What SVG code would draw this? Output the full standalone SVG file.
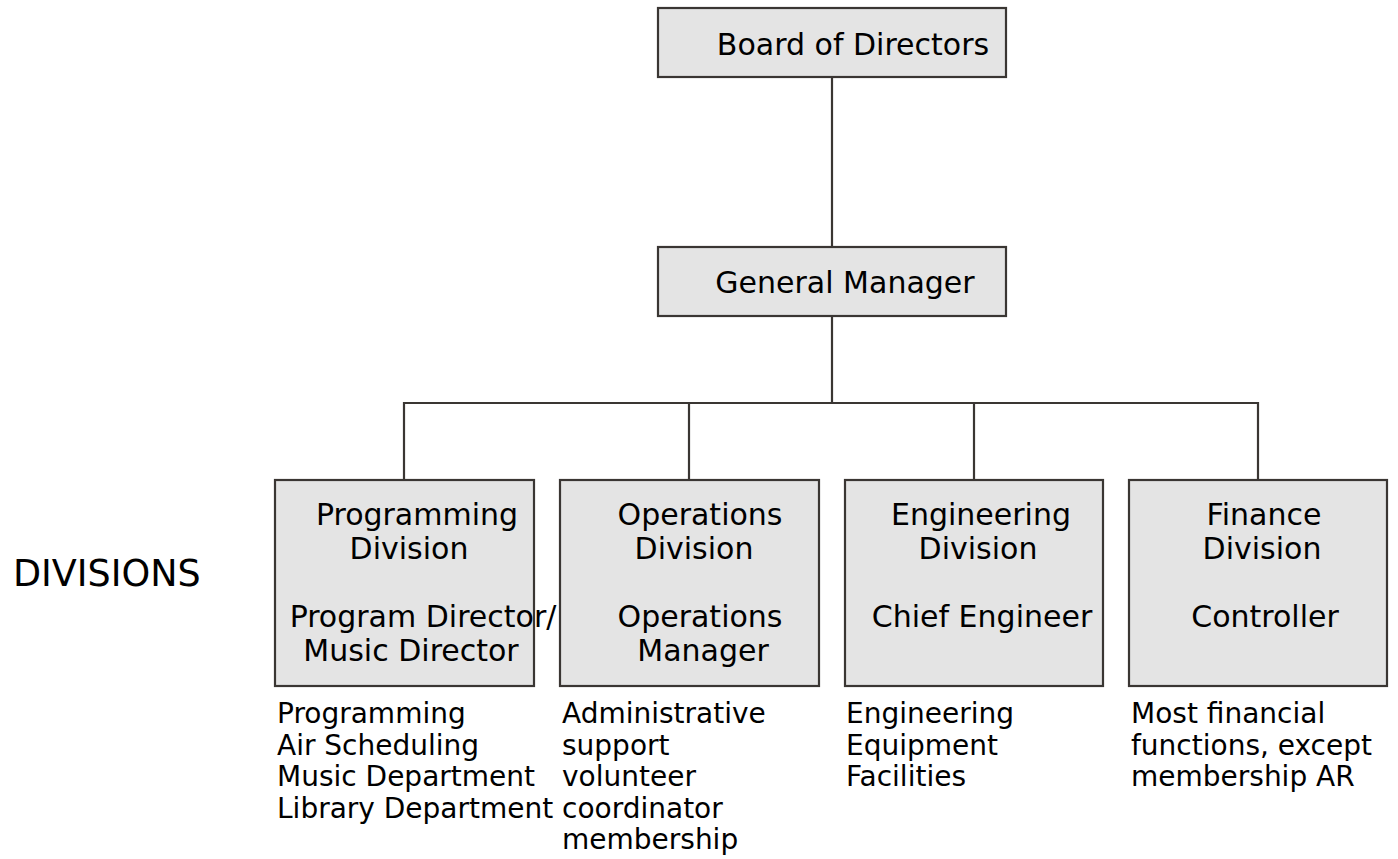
<svg xmlns="http://www.w3.org/2000/svg" width="1398" height="859" viewBox="0 0 1398 859">
  <style>
    .box { fill: #e4e4e4; stroke: #3a3633; stroke-width: 2.2; }
    .wire { fill: none; stroke: #3a3633; stroke-width: 2.2; }
    .t { font-family: "DejaVu Sans", Verdana, sans-serif; font-size: 30px; fill: #000; text-anchor: middle; }
    .l { font-family: "DejaVu Sans", Verdana, sans-serif; font-size: 28px; fill: #000; }
    .side { font-family: "DejaVu Sans", Verdana, sans-serif; font-size: 36.5px; fill: #000; }
  </style>
  <rect width="1398" height="859" fill="#ffffff"/>

  <!-- reporting lines -->
  <g id="connectors">
    <path class="wire" d="M832 77 V247"/>
    <path class="wire" d="M832 316 V403"/>
    <path class="wire" d="M404 480 V403 H1258 V480"/>
    <path class="wire" d="M689 403 V480"/>
    <path class="wire" d="M974 403 V480"/>
  </g>

  <g id="board">
    <rect class="box" x="658" y="8" width="348" height="69"/>
    <text class="t" x="853" y="55">Board of Directors</text>
  </g>

  <g id="general-manager">
    <rect class="box" x="658" y="247" width="348" height="69"/>
    <text class="t" x="845" y="293">General Manager</text>
  </g>

  <text class="side" x="13" y="586">DIVISIONS</text>

  <g id="programming">
    <rect class="box" x="275" y="480" width="259" height="206"/>
    <text class="t" x="417" y="525">Programming</text>
    <text class="t" x="409" y="559">Division</text>
    <text class="t" x="423" y="627">Program Director/</text>
    <text class="t" x="411" y="661">Music Director</text>
    <text class="l" x="277" y="723">Programming</text>
    <text class="l" x="277" y="754.5">Air Scheduling</text>
    <text class="l" x="277" y="786">Music Department</text>
    <text class="l" x="277" y="817.5">Library Department</text>
  </g>

  <g id="operations">
    <rect class="box" x="560" y="480" width="259" height="206"/>
    <text class="t" x="700" y="525">Operations</text>
    <text class="t" x="694" y="559">Division</text>
    <text class="t" x="700" y="627">Operations</text>
    <text class="t" x="703" y="661">Manager</text>
    <text class="l" x="562" y="723">Administrative</text>
    <text class="l" x="562" y="754.5">support</text>
    <text class="l" x="562" y="786">volunteer</text>
    <text class="l" x="562" y="817.5">coordinator</text>
    <text class="l" x="562" y="849">membership</text>
  </g>

  <g id="engineering">
    <rect class="box" x="845" y="480" width="258" height="206"/>
    <text class="t" x="981" y="525">Engineering</text>
    <text class="t" x="978" y="559">Division</text>
    <text class="t" x="982" y="627">Chief Engineer</text>
    <text class="l" x="846" y="723">Engineering</text>
    <text class="l" x="846" y="754.5">Equipment</text>
    <text class="l" x="846" y="786">Facilities</text>
  </g>

  <g id="finance">
    <rect class="box" x="1129" y="480" width="258" height="206"/>
    <text class="t" x="1264" y="525">Finance</text>
    <text class="t" x="1262" y="559">Division</text>
    <text class="t" x="1265" y="627">Controller</text>
    <text class="l" x="1131" y="723">Most financial</text>
    <text class="l" x="1131" y="754.5">functions, except</text>
    <text class="l" x="1131" y="786">membership AR</text>
  </g>
</svg>
